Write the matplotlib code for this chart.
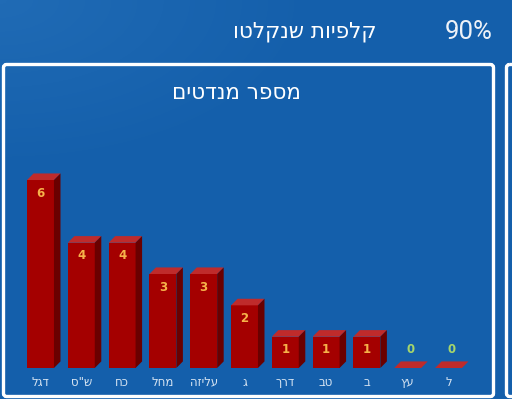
import numpy as np
import matplotlib
matplotlib.use("Agg")
import matplotlib.pyplot as plt
from matplotlib.patches import Polygon, FancyBboxPatch

# נתונים
parties = ["דגל", 'ש"ס', "כח", "מחל", "עליזה", "ג", "דרך", "טב", "ב", "עץ", "ל"]
seats = [6, 4, 4, 3, 3, 2, 1, 1, 1, 0, 0]
header_text = "קלפיות שנקלטו"
header_pct = "90%"
panel_title = "מספר מנדטים"

# צבעים
front_c = "#a40000"
side_c = "#6a0000"
top_c = "#bf2b2b"
num_c = "#f6b24a"
zero_c = "#a6d66b"
label_c = "#d6e4f2"


def rtl(s):
    # matplotlib doesn't do bidi, so flip Hebrew by hand
    return s[::-1]


fig = plt.figure(figsize=(5.12, 3.99), dpi=100)

# background layer in pixel units
bg = fig.add_axes([0, 0, 1, 1])
bg.set_xlim(0, 512)
bg.set_ylim(399, 0)
bg.axis("off")
yy, xx = np.mgrid[0:399, 0:512]
shade = np.clip(1 - np.hypot(xx / 320.0, yy / 170.0), 0, 1) * 0.08
base = np.array([0x14, 0x5f, 0xab]) / 255.0
img = np.clip(base[None, None, :] + shade[..., None] * np.array([0.6, 0.6, 0.5]), 0, 1)
bg.imshow(img, extent=(0, 512, 399, 0), aspect="auto", zorder=0)

# panel frames
bg.add_patch(FancyBboxPatch((3.5, 64.5), 490, 332, boxstyle="round,pad=0,rounding_size=3",
                            fill=False, ec="white", lw=2.4, zorder=2))
bg.add_patch(FancyBboxPatch((506.5, 64.5), 40, 332, boxstyle="round,pad=0,rounding_size=3",
                            fill=False, ec="white", lw=2.4, zorder=2))

bg.text(305, 32, rtl(header_text), color="white", fontsize=15.5, ha="center", va="center",
        family="DejaVu Sans")
bg.text(493, 32, header_pct, color="#eef2f8", fontsize=18.5, ha="right", va="center",
        family="Roboto")
bg.text(236, 93, rtl(panel_title), color="white", fontsize=15.5, ha="center", va="center",
        family="DejaVu Sans")

# bar axes
ax = fig.add_axes([20.1 / 512, (399 - 368) / 399, (468.9 - 20.1) / 512, (368 - 148.7) / 399])
ax.set_xlim(-0.5, len(parties) - 0.5)
ax.set_ylim(0, 7)
ax.axis("off")
ax.patch.set_alpha(0)

w = 0.66
dx = 0.16
dy = 0.21
x = np.arange(len(parties))

ax.bar(x, seats, width=w, color=front_c, zorder=3)
for xi, v in zip(x, seats):
    l, r = xi - w / 2, xi + w / 2
    ax.add_patch(Polygon([(l, v), (r, v), (r + dx, v + dy), (l + dx, v + dy)],
                         closed=True, fc=top_c, ec="none", zorder=4))
    if v > 0:
        ax.add_patch(Polygon([(r, 0), (r + dx, dy), (r + dx, v + dy), (r, v)],
                             closed=True, fc=side_c, ec="none", zorder=4))
        ax.text(xi, v - 0.42, str(v), color=num_c, fontsize=8.5, fontweight="bold",
                ha="center", va="center", zorder=5)
    else:
        ax.text(xi + dx / 2, 0.6, str(v), color=zero_c, fontsize=8.5, fontweight="bold",
                ha="center", va="center", zorder=5)

for xi, name in zip(x, parties):
    ax.text(xi, -0.45, rtl(name), color=label_c, fontsize=8.5, ha="center", va="center",
            family="DejaVu Sans", clip_on=False)

fig.savefig("out.png", dpi=100)
